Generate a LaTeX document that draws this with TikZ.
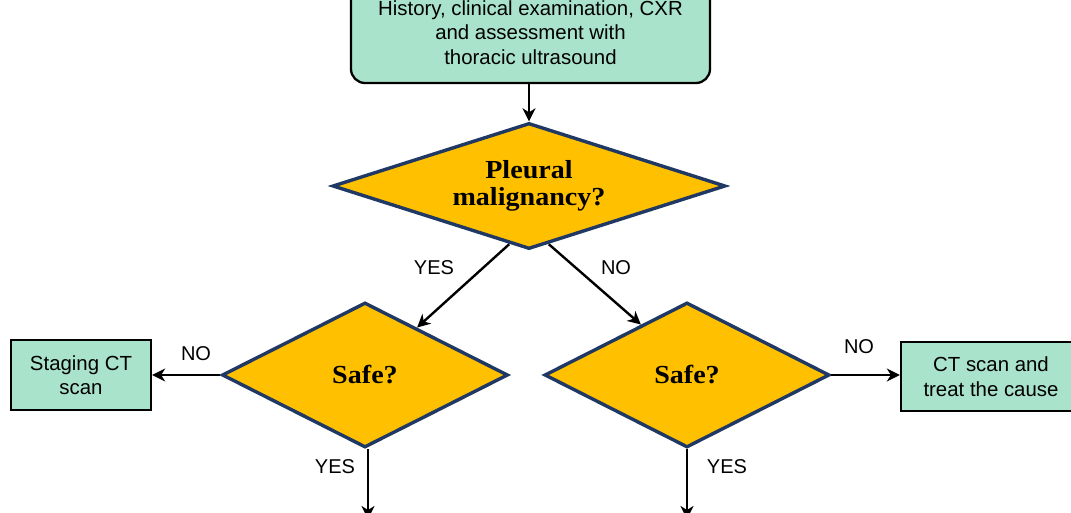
\documentclass[tikz,border=0pt]{standalone}
\usepackage{fontspec}
\setmainfont{Liberation Sans}
\newfontfamily\qfont[FakeStretch=1.08]{Liberation Serif}
\usetikzlibrary{shapes.geometric,arrows.meta,calc}
\definecolor{boxgreen}{HTML}{A9E3CB}
\definecolor{qyellow}{HTML}{FFC000}
\definecolor{qnavy}{HTML}{1F3864}
\tikzset{
  infobox/.style={draw=black, line width=2.3pt, fill=boxgreen, align=center, inner sep=0pt,
    font=\fontsize{20.4}{24.5}\selectfont},
  question/.style={diamond, aspect=3, draw=qnavy, line width=3.4pt, fill=qyellow, align=center, inner sep=0pt,
    font=\qfont\bfseries\fontsize{26}{27.5}\selectfont},
  flow/.style={draw=black, line width=2.4pt, -{Stealth[length=13pt,width=13pt,inset=4pt]}},
  answer/.style={font=\fontsize{20}{24}\selectfont, inner sep=0pt}
}
\begin{document}
\begin{tikzpicture}[x=1pt,y=-1pt]
  \fill[white] (0,0) rectangle (1071,513);
  \useasboundingbox (0,0) rectangle (1071,513);

  % assessment box (runs off the top edge)
  \node[infobox, rounded corners=14pt, minimum width=359pt, minimum height=101pt]
    (assess) at (530.5,32.5) {History, clinical examination, CXR\\and assessment with\\thoracic ultrasound};

  % decisions
  \node[question, minimum width=393pt, minimum height=126pt] (malig) at (529,186) {Pleural\\malignancy?};
  \node[question, minimum width=286pt, minimum height=145pt] (safeL) at (365,375) {Safe?};
  \node[question, minimum width=285pt, minimum height=145pt] (safeR) at (687,375) {Safe?};

  % outcomes
  \node[infobox, minimum width=140pt, minimum height=70pt] (staging) at (81,375) {Staging CT\\scan};
  \node[infobox, minimum width=180pt, minimum height=69pt] (ctscan) at (991,376.5) {CT scan and\\treat the cause};

  % continuation ends below the page
  \coordinate (downL) at (368,519);
  \coordinate (downR) at (687,519);

  % connectors
  \draw[flow] (assess.south -| malig.north) -- (malig.north);
  \draw[flow] ($(malig.south)!0.1!(malig.west)$) -- ($(safeL.north)!0.36!(safeL.east)$);
  \draw[flow] ($(malig.south)!0.1!(malig.east)$) -- ($(safeR.north)!0.32!(safeR.west)$);
  \draw[flow] (safeL.west) -- (safeL.west -| staging.east);
  \draw[flow] (safeR.east) -- (safeR.east -| ctscan.west);
  \draw[flow] (safeL.south -| downL) -- (downL);
  \draw[flow] (safeR.south) -- (downR);

  % answer labels
  \node[answer] (yes1) at (434,268) {YES};
  \node[answer] (no1) at (616,268) {NO};
  \node[answer] (no2) at (196,354) {NO};
  \node[answer] (yes2) at (335,467) {YES};
  \node[answer] (yes3) at (727,467) {YES};
  \node[answer] (no3) at (859,347) {NO};
\end{tikzpicture}
\end{document}
